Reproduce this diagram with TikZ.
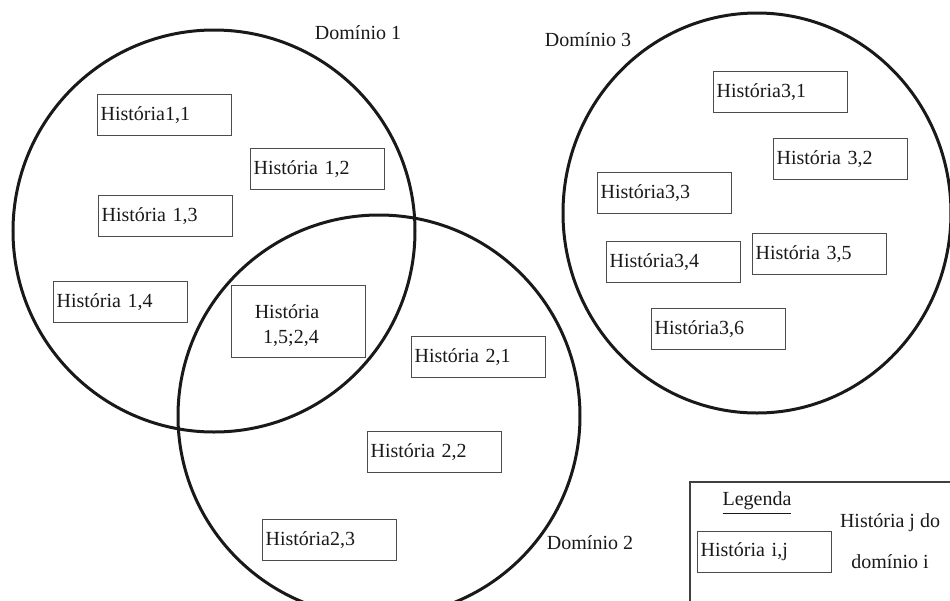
\documentclass[tikz,border=0pt]{standalone}
\usepackage{fontspec}
\setmainfont{Liberation Serif}
\usetikzlibrary{shapes.geometric}
\begin{document}
\begin{tikzpicture}[x=0.5pt,y=-0.5pt,
  domainring/.style={draw=black!90, line width=1.5pt, circle, inner sep=0pt},
  story/.style={draw=black!70, line width=0.6pt, anchor=north west,
    minimum height=20.5pt, text width=64pt, inner xsep=1.5pt, inner ysep=0pt,
    align=left, font=\fontsize{10}{12}\selectfont, text=black!90},
  caption/.style={font=\fontsize{10}{12}\selectfont, inner sep=0pt, text=black!90},
]
\useasboundingbox (0,0) rectangle (950,601);
\clip (0,0) rectangle (950,601);

% domains
\node[domainring, minimum size=201pt] (dom1) at (214,231) {};
\node[domainring, minimum size=201pt] (dom2) at (379,416) {};
\node[domainring, ellipse, minimum width=194pt, minimum height=200pt] (dom3) at (757,213) {};

\node[caption] (lab1) at (358,33) {Domínio 1};
\node[caption] (lab2) at (590,543) {Domínio 2};
\node[caption] (lab3) at (588,40) {Domínio 3};

% stories of domain 1
\node[story] (s11) at (97,94)  {História1,1};
\node[story] (s12) at (250,148) {História 1,2};
\node[story] (s13) at (98,195) {História 1,3};
\node[story] (s14) at (53,281) {História 1,4};
\node[story, minimum height=36pt] (s15) at (231,285) {};
\node[caption] (s15a) at (287,312) {História};
\node[caption] (s15b) at (291,338) {1,5;2,4};

% stories of domain 2
\node[story] (s21) at (411,336) {História 2,1};
\node[story] (s22) at (367,431) {História 2,2};
\node[story] (s23) at (262,519) {História2,3};

% stories of domain 3
\node[story] (s31) at (713,71)  {História3,1};
\node[story] (s32) at (773,138) {História 3,2};
\node[story] (s33) at (597,172) {História3,3};
\node[story] (s34) at (606,241) {História3,4};
\node[story] (s35) at (752,233) {História 3,5};
\node[story] (s36) at (651,308) {História3,6};

% legend
\draw[draw=black!75, line width=0.8pt] (690,610) -- (690,482) -- (951,482);
\node[caption] (leg) at (757,503) {\underline{Legenda}};
\node[story] (sij) at (697,531) {História i,j};
\node[caption] (legA) at (890,523) {História j do};
\node[caption] (legB) at (890,562) {domínio i};
\end{tikzpicture}
\end{document}
